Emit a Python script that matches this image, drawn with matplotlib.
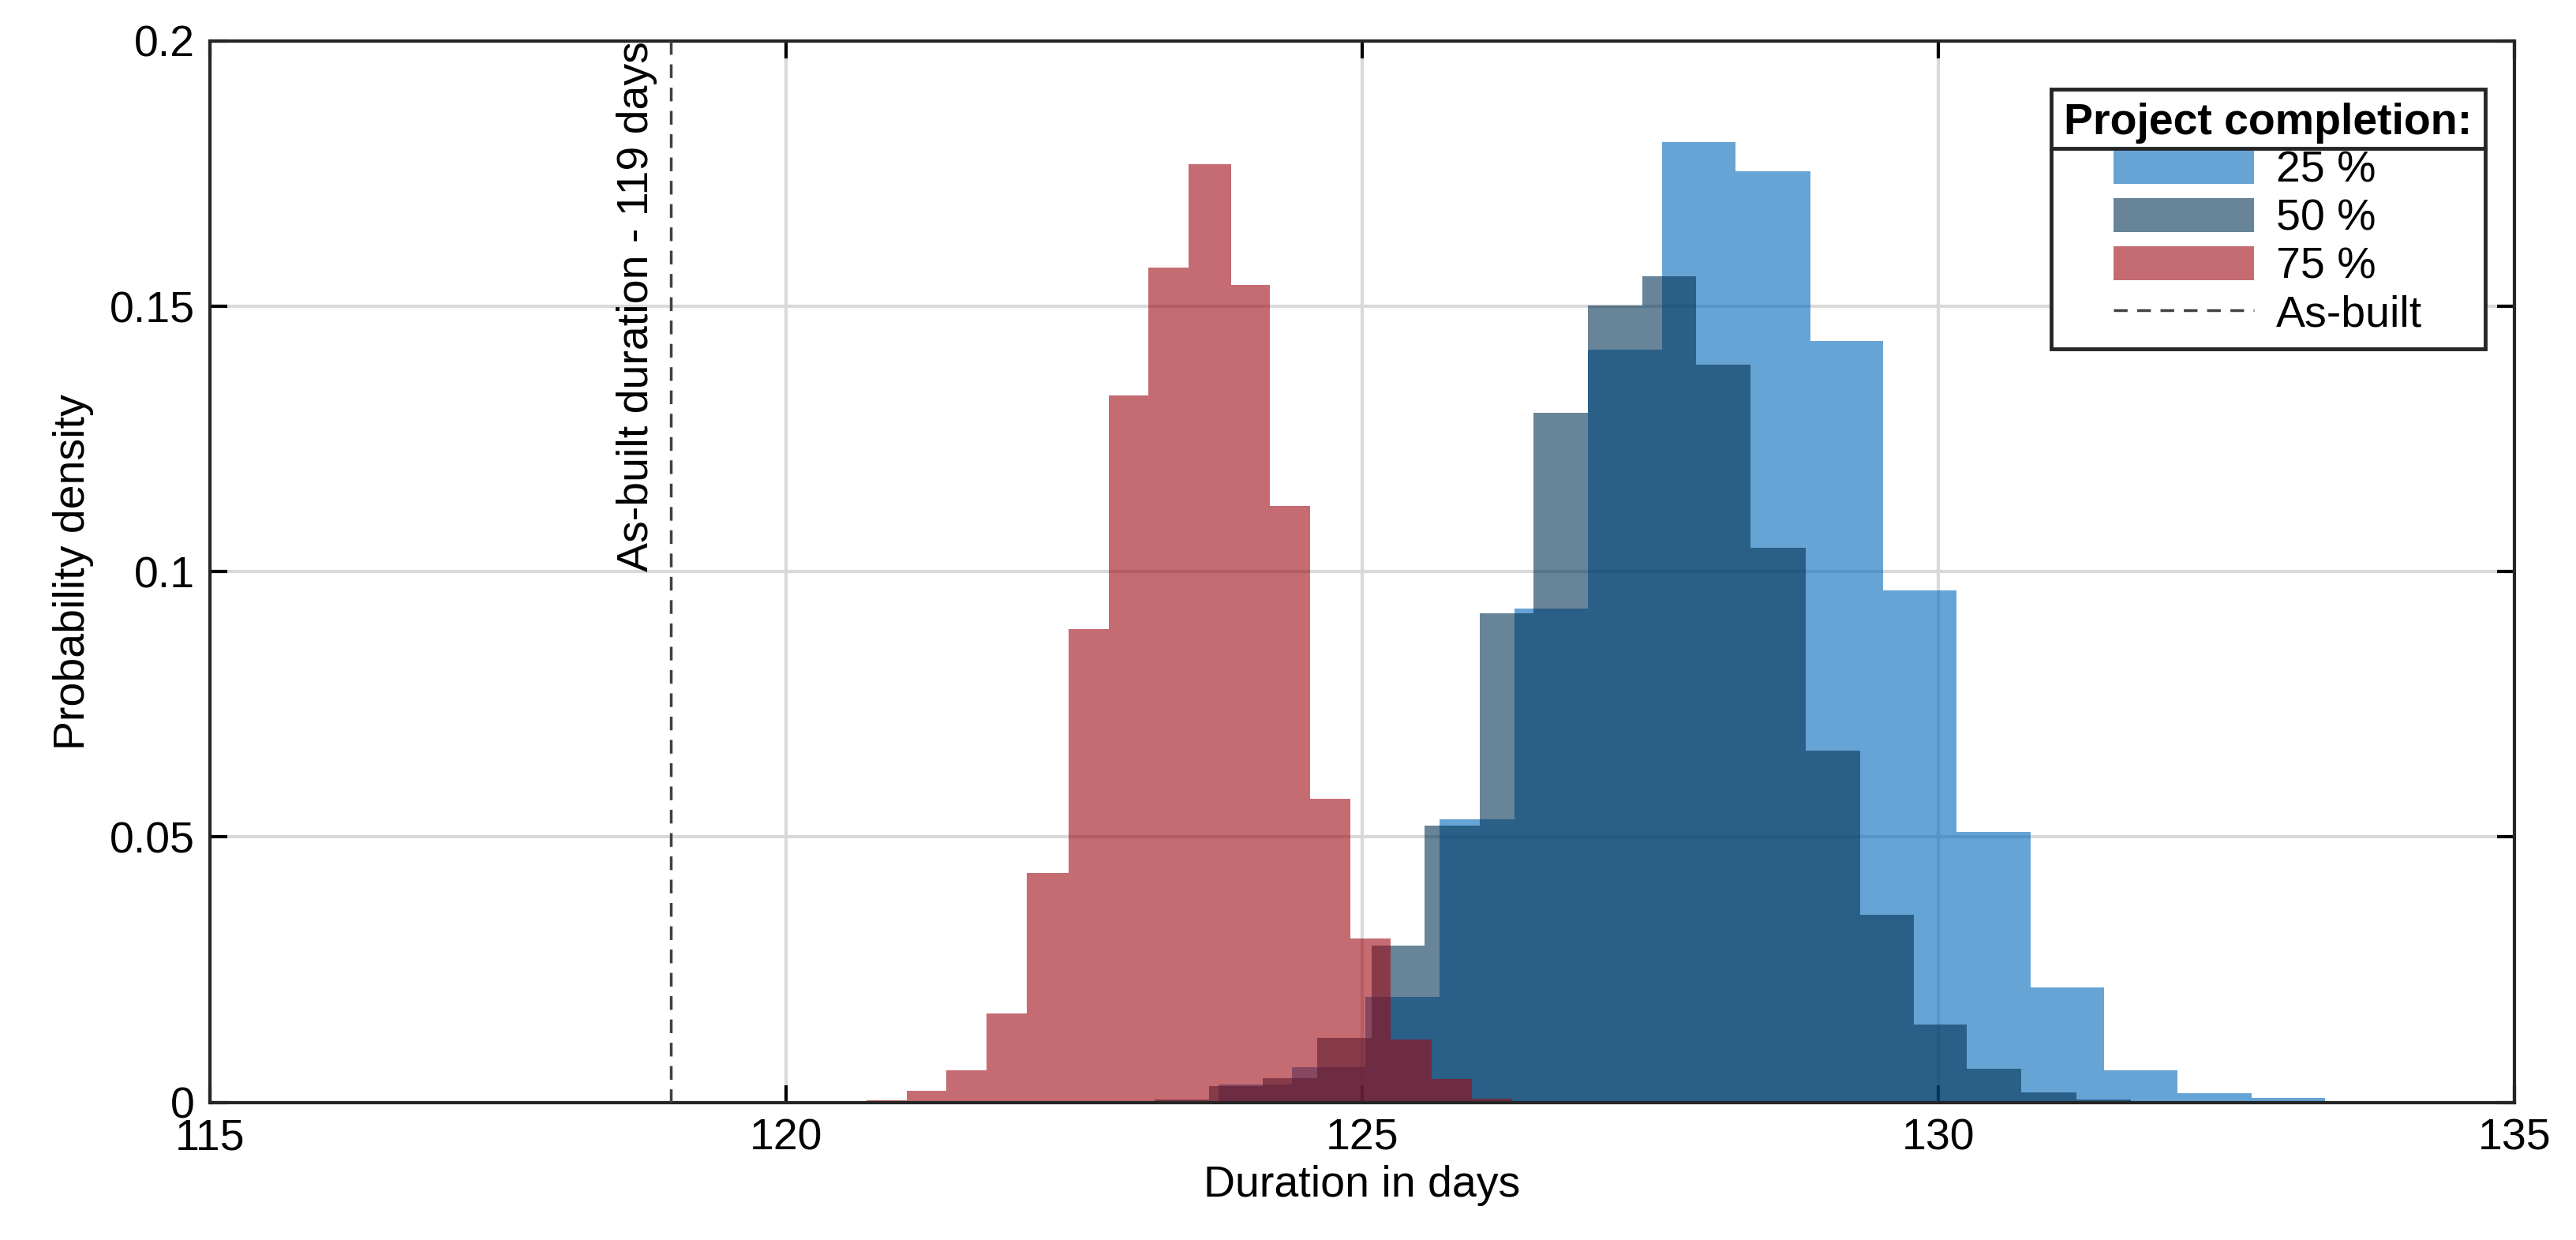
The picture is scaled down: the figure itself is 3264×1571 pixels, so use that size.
import matplotlib
matplotlib.use("Agg")
import matplotlib.pyplot as plt
import numpy as np
from matplotlib.lines import Line2D

plt.rcParams['font.family'] = ['Arial', 'Liberation Sans', 'DejaVu Sans']

# 25 % completion
edges25 = [123.75, 124.39, 125.03, 125.67, 126.32, 126.96, 127.60, 128.24, 128.89, 129.52, 130.16, 130.80, 131.44, 132.08, 132.72, 133.36]
dens25 = [0.0033, 0.0066, 0.0198, 0.0533, 0.093, 0.1419, 0.1809, 0.1754, 0.1434, 0.0965, 0.0509, 0.0216, 0.006, 0.0018, 0.0008]
# 50 % completion
edges50 = [123.20, 123.67, 124.14, 124.61, 125.08, 125.54, 126.02, 126.49, 126.96, 127.43, 127.90, 128.37, 128.85, 129.32, 129.79, 130.25, 130.72, 131.20, 131.67]
dens50 = [0.0005, 0.003, 0.0045, 0.0121, 0.0296, 0.0521, 0.0921, 0.1299, 0.1501, 0.1556, 0.139, 0.1045, 0.0663, 0.0353, 0.0146, 0.0063, 0.0019, 0.0006]
# 75 % completion
edges75 = [120.70, 121.05, 121.39, 121.74, 122.09, 122.45, 122.80, 123.14, 123.49, 123.86, 124.20, 124.55, 124.90, 125.25, 125.60, 125.95, 126.30]
dens75 = [0.0004, 0.0022, 0.006, 0.0168, 0.0432, 0.0892, 0.1332, 0.1573, 0.1768, 0.154, 0.1124, 0.0572, 0.0309, 0.0118, 0.0044, 0.0007]
as_built = 119

fig = plt.figure(figsize=(32.64, 15.71), dpi=100)
ax = fig.add_axes([0.0816, 0.111, 0.8944, 0.856])

series = [(edges25, dens25, '#0067bb', '25 %'),
          (edges50, dens50, '#033253', '50 %'),
          (edges75, dens75, '#9d0a14', '75 %')]
handles = []
for i, (e, d, c, lab) in enumerate(series):
    e = np.asarray(e)
    h = ax.bar(e[:-1], d, width=np.diff(e), align='edge', color=c, alpha=0.6,
               linewidth=0, label=lab, zorder=2 + i * 0.1)
    handles.append(h)
ln = ax.axvline(as_built, color='#404040', ls=(0, (5, 3.5)), lw=2.5, label='As-built', zorder=3)
handles.append(ln)
ax.text(as_built - 0.12, 0.15, 'As-built duration - 119 days', rotation=90,
        ha='right', va='center', fontsize=40)

ax.set_xlim(115, 135)
ax.set_ylim(0, 0.2)
ax.set_xticks([115, 120, 125, 130, 135])
ax.set_yticks([0, 0.05, 0.1, 0.15, 0.2])
ax.set_yticklabels(['0', '0.05', '0.1', '0.15', '0.2'])
ax.tick_params(direction='in', length=16, width=3, labelsize=40, top=True, right=True, pad=14)
ax.grid(True, color='#d9d9d9', lw=3, zorder=0)
ax.set_axisbelow(True)
for s in ax.spines.values():
    s.set_linewidth(3)
    s.set_color('#262626')
ax.set_xlabel('Duration in days', fontsize=40, labelpad=6)
ax.set_ylabel('Probability density', fontsize=40, labelpad=14)

leg = ax.legend(handles=handles, labels=['25 %', '50 %', '75 %', 'As-built'],
                loc='upper right', bbox_to_anchor=(0.997, 0.975), fontsize=40,
                title='Project completion:', title_fontproperties={'weight': 'bold', 'size': 40},
                fancybox=False, framealpha=1, edgecolor='#262626', handlelength=3.2,
                handleheight=0.8, borderpad=0.3, labelspacing=0.15, handletextpad=0.5)
leg.get_frame().set_linewidth(3.5)
fig.canvas.draw()
r = fig.canvas.get_renderer()
fb = leg.get_frame().get_window_extent(r)
tb = leg.get_title().get_window_extent(r)
yline = tb.y0 - 6
inv = fig.transFigure.inverted()
(x0, y0), (x1, _) = inv.transform([(fb.x0, yline), (fb.x1, yline)])
fig.add_artist(Line2D([x0, x1], [y0, y0], color='#262626', lw=3.5, transform=fig.transFigure, zorder=10))
fig.savefig('out.png', dpi=100)
